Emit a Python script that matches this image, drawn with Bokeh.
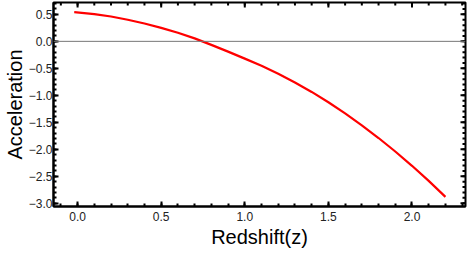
import math
from bokeh.plotting import figure
from bokeh.models import Range1d, FixedTicker, Span
from bokeh.embed import file_html
from bokeh.resources import INLINE

# data
redshift = [-0.02, 0.1, 0.2, 0.3, 0.4, 0.5, 0.6, 0.7, 0.8, 0.9, 1.0, 1.1,
            1.2, 1.3, 1.4, 1.5, 1.6, 1.7, 1.8, 1.9, 2.0, 2.1, 2.2]
acceleration = [0.54, 0.505, 0.46, 0.40, 0.33, 0.25, 0.16, 0.055, -0.065,
                -0.19, -0.32, -0.452, -0.599, -0.761, -0.937, -1.128, -1.334,
                -1.555, -1.791, -2.041, -2.306, -2.586, -2.881]
x_ticks = [0.0, 0.5, 1.0, 1.5, 2.0]
x_tick_labels = ["0.0", "0.5", "1.0", "1.5", "2.0"]
y_ticks = [0.5, 0.0, -0.5, -1.0, -1.5, -2.0, -2.5, -3.0]
y_tick_labels = ["0.5", "0.0", "\u22120.5", "\u22121.0", "\u22121.5",
                 "\u22122.0", "\u22122.5", "\u22123.0"]
x_minor = [round(-0.1 + 0.1 * i, 1) for i in range(25)]
y_minor = [round(-3.0 + 0.1 * i, 1) for i in range(38)]
x_title = "Redshift(z)"
y_title = "Acceleration"

x0, x1 = -0.144, 2.32
y0, y1 = -3.06, 0.72

p = figure(width=467, height=253, output_backend="svg", toolbar_location=None,
           x_range=Range1d(x0, x1), y_range=Range1d(y0, y1),
           min_border_left=53, min_border_right=2, min_border_top=2,
           min_border_bottom=47)
p.xgrid.visible = False
p.ygrid.visible = False
p.outline_line_color = "black"
p.outline_line_width = 2
p.background_fill_color = "white"
p.border_fill_color = "white"

xa = p.xaxis[0]
ya = p.yaxis[0]
xa.ticker = FixedTicker(ticks=x_ticks, minor_ticks=x_minor)
ya.ticker = FixedTicker(ticks=y_ticks, minor_ticks=y_minor)
xa.major_label_overrides = dict(zip(x_ticks, x_tick_labels))
ya.major_label_overrides = dict(zip(y_ticks, y_tick_labels))
xa.axis_label = x_title
ya.axis_label = y_title

for ax in (xa, ya):
    ax.axis_line_color = "black"
    ax.axis_line_width = 2
    ax.major_tick_in = 5
    ax.major_tick_out = 0
    ax.minor_tick_in = 3
    ax.minor_tick_out = 0
    ax.major_tick_line_width = 2
    ax.minor_tick_line_width = 2
    ax.major_label_text_font = "Liberation Sans"
    ax.major_label_text_color = "#222222"
    ax.major_label_text_font_size = "12px"
    ax.axis_label_text_font = "Liberation Sans"
    ax.axis_label_text_font_style = "normal"
    ax.axis_label_text_color = "black"
    ax.axis_label_text_font_size = "20px"

xa.major_label_standoff = 5
ya.major_label_standoff = 1
xa.axis_label_standoff = 2
ya.axis_label_standoff = 0

# mirrored inward ticks on the top and right frame edges
p.ray(x=x_ticks, y=[y1] * len(x_ticks), length=5, length_units="screen",
      angle=-math.pi / 2, line_color="black", line_width=2)
p.ray(x=x_minor, y=[y1] * len(x_minor), length=3, length_units="screen",
      angle=-math.pi / 2, line_color="black", line_width=2)
p.ray(x=[x1] * len(y_ticks), y=y_ticks, length=5, length_units="screen",
      angle=math.pi, line_color="black", line_width=2)
p.ray(x=[x1] * len(y_minor), y=y_minor, length=3, length_units="screen",
      angle=math.pi, line_color="black", line_width=2)

p.add_layout(Span(location=0, dimension="width", line_color="#777777", line_width=1))
p.line(redshift, acceleration, line_color="#ff0000", line_width=2.2)

open("out.html", "w").write(file_html(p, INLINE))
